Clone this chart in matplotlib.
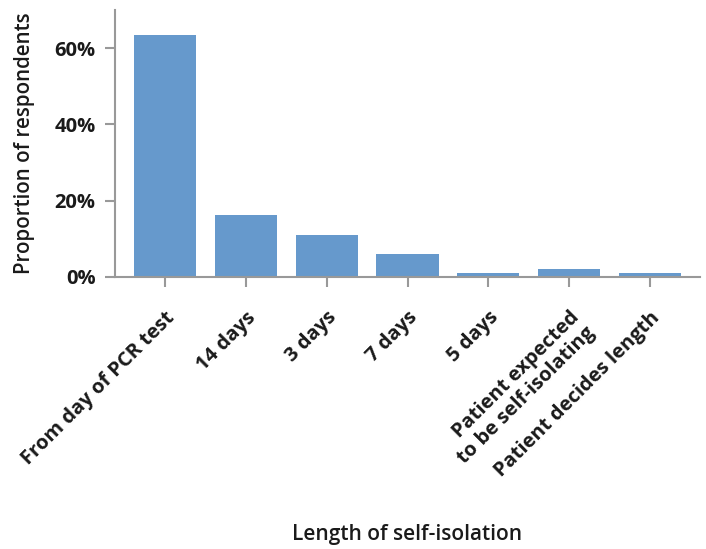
import matplotlib
matplotlib.use("Agg")
import matplotlib.pyplot as plt
from matplotlib.ticker import FuncFormatter

categories = ["From day of PCR test", "14 days", "3 days", "7 days", "5 days",
              "Patient expected\nto be self-isolating", "Patient decides length"]
values = [63.4, 16.2, 11.0, 6.0, 1.1, 2.1, 1.1]
yticks = [0, 20, 40, 60]

plt.rcParams['font.family'] = ['Open Sans', 'DejaVu Sans']
txt = '#1a1a1a'

fig = plt.figure(figsize=(7.06, 5.49), dpi=100)
ax = fig.add_axes([115/706, 1-277/549, (700-115)/706, (277-10)/549])

x = list(range(len(categories)))
ax.bar(x, values, width=0.77, color="#6699CC", zorder=2)
ax.set_xlim(-0.62, 6.62)
ax.set_ylim(0, 70)
ax.set_yticks(yticks)
ax.yaxis.set_major_formatter(FuncFormatter(lambda v, p: f"{v:.0f}%"))
ax.set_xticks(x)
ax.set_xticklabels(categories, rotation=45, ha='right', rotation_mode='anchor',
                   fontsize=14.5, fontweight='bold', color=txt, multialignment='right',
                   linespacing=1.15)
for lab in ax.get_yticklabels():
    lab.set_fontsize(14.5)
    lab.set_fontweight('bold')
    lab.set_color(txt)

for s in ['top', 'right']:
    ax.spines[s].set_visible(False)
for s in ['left', 'bottom']:
    ax.spines[s].set_color('#999999')
    ax.spines[s].set_linewidth(1.5)
ax.tick_params(axis='both', color='#999999', width=1.5, length=7, direction='out')
ax.tick_params(axis='x', pad=15)
ax.tick_params(axis='y', pad=7)

ax.set_ylabel("Proportion of respondents", fontsize=14.8, fontweight='semibold', color=txt, va='center')
ax.yaxis.set_label_coords(-0.154, 0.5)
ax.set_xlabel("Length of self-isolation", fontsize=15, fontweight='semibold', color=txt, va='center')
ax.xaxis.set_label_coords(0.5, -0.966)

fig.savefig("out.png", dpi=100)
